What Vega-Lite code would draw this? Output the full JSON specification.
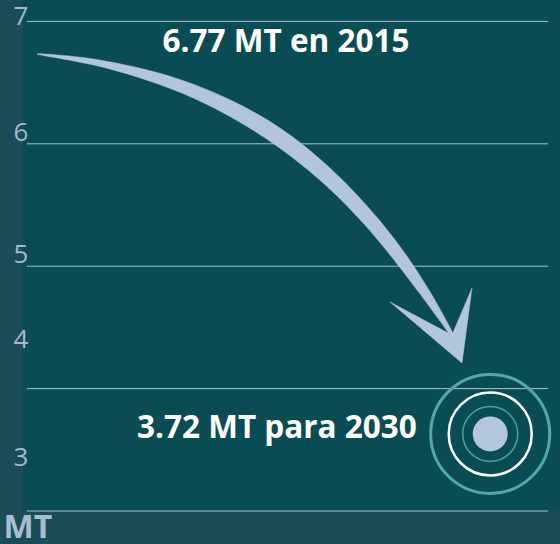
{
  "$schema": "https://vega.github.io/schema/vega-lite/v6.json",
  "width": 537,
  "height": 511,
  "autosize": "none",
  "padding": {"left": 23, "top": 0, "right": 0, "bottom": 33},
  "background": "#1c4d56",
  "view": {"fill": "#0a4c54", "stroke": null},
  "config": {"font": "Open Sans"},
  "datasets": {
    "grid": [{"mt": 3}, {"mt": 4}, {"mt": 5}, {"mt": 6}, {"mt": 7}],
    "shaft": [
      {"i": 1, "year": 2015.061, "mt": 6.734},
      {"i": 2, "year": 2016.339, "mt": 6.712},
      {"i": 3, "year": 2017.541, "mt": 6.666},
      {"i": 4, "year": 2019.041, "mt": 6.581},
      {"i": 5, "year": 2020.425, "mt": 6.467},
      {"i": 6, "year": 2021.857, "mt": 6.307},
      {"i": 7, "year": 2023.155, "mt": 6.114},
      {"i": 8, "year": 2024.326, "mt": 5.889},
      {"i": 9, "year": 2025.389, "mt": 5.640},
      {"i": 10, "year": 2026.363, "mt": 5.371},
      {"i": 11, "year": 2027.256, "mt": 5.082},
      {"i": 12, "year": 2027.975, "mt": 4.808},
      {"i": 13, "year": 2028.471, "mt": 4.592},
      {"i": 14, "year": 2028.782, "mt": 4.444},
      {"i": 15, "year": 2028.698, "mt": 4.432},
      {"i": 16, "year": 2028.304, "mt": 4.566},
      {"i": 17, "year": 2027.715, "mt": 4.764},
      {"i": 18, "year": 2026.925, "mt": 5.021},
      {"i": 19, "year": 2026.011, "mt": 5.297},
      {"i": 20, "year": 2025.038, "mt": 5.554},
      {"i": 21, "year": 2023.986, "mt": 5.789},
      {"i": 22, "year": 2022.847, "mt": 6.003},
      {"i": 23, "year": 2021.612, "mt": 6.196},
      {"i": 24, "year": 2020.260, "mt": 6.369},
      {"i": 25, "year": 2018.937, "mt": 6.499},
      {"i": 26, "year": 2017.491, "mt": 6.610},
      {"i": 27, "year": 2016.315, "mt": 6.675}
    ],
    "head": [
      {"i": 1, "year": 2028.740, "mt": 4.438},
      {"i": 2, "year": 2029.399, "mt": 4.822},
      {"i": 3, "year": 2029.070, "mt": 4.209},
      {"i": 4, "year": 2026.697, "mt": 4.708}
    ],
    "target": [{"year": 2030.0, "mt": 3.63}],
    "notes": [
      {"year": 2023.27, "mt": 6.753, "text": "6.77 MT en 2015"},
      {"year": 2022.97, "mt": 3.594, "text": "3.72 MT para 2030"}
    ]
  },
  "layer": [
    {
      "data": {"name": "grid"},
      "mark": {"type": "rule", "color": "#a6c3cf", "strokeWidth": 1},
      "encoding": {
        "x": {"datum": 2014.73, "type": "quantitative", "scale": {"domain": [2014.6, 2032.3], "nice": false, "zero": false}, "axis": null},
        "x2": {"datum": 2031.9},
        "y": {
          "field": "mt",
          "type": "quantitative",
          "scale": {"domain": [3, 7.175], "nice": false, "zero": false},
          "axis": {
            "values": [3, 4, 5, 6, 7],
            "format": "d",
            "grid": false,
            "domain": false,
            "ticks": false,
            "tickSize": 0,
            "labelFont": "Open Sans",
            "labelFontSize": 26,
            "labelColor": "#a1b9cb",
            "labelAlign": "center",
            "labelBaseline": "middle",
            "labelPadding": 2.5,
            "labelOffset": {
              "condition": [
                {"test": "datum.value == 7", "value": -5},
                {"test": "datum.value == 6", "value": -11},
                {"test": "datum.value == 5", "value": -12},
                {"test": "datum.value == 4", "value": -49}
              ],
              "value": -54
            },
            "title": "MT",
            "titleAngle": 0,
            "titleFont": "Open Sans",
            "titleFontWeight": "bold",
            "titleFontSize": 32,
            "titleColor": "#a7bdd0",
            "titleAlign": "left",
            "titleBaseline": "alphabetic",
            "titleX": -20,
            "titleY": 537
          }
        }
      }
    },
    {
      "data": {"name": "shaft"},
      "mark": {"type": "line", "fill": "#b2c5d9", "stroke": "#b2c5d9", "strokeWidth": 0.5, "interpolate": "cardinal-closed"},
      "encoding": {
        "x": {"field": "year", "type": "quantitative"},
        "y": {"field": "mt", "type": "quantitative"},
        "order": {"field": "i", "type": "quantitative"}
      }
    },
    {
      "data": {"name": "head"},
      "mark": {"type": "line", "fill": "#b2c5d9", "stroke": "#b2c5d9", "strokeWidth": 0.5, "interpolate": "linear-closed"},
      "encoding": {
        "x": {"field": "year", "type": "quantitative"},
        "y": {"field": "mt", "type": "quantitative"},
        "order": {"field": "i", "type": "quantitative"}
      }
    },
    {
      "data": {"name": "target"},
      "mark": {"type": "point", "shape": "circle", "filled": false, "size": 14161, "stroke": "#55a9a2", "strokeWidth": 3, "opacity": 1},
      "encoding": {
        "x": {"field": "year", "type": "quantitative"},
        "y": {"field": "mt", "type": "quantitative"}
      }
    },
    {
      "data": {"name": "target"},
      "mark": {"type": "point", "shape": "circle", "filled": false, "size": 6889, "stroke": "#ffffff", "strokeWidth": 2.5, "opacity": 1},
      "encoding": {
        "x": {"field": "year", "type": "quantitative"},
        "y": {"field": "mt", "type": "quantitative"}
      }
    },
    {
      "data": {"name": "target"},
      "mark": {"type": "point", "shape": "circle", "filled": false, "size": 3025, "stroke": "#4aa39c", "strokeWidth": 1.5, "opacity": 1},
      "encoding": {
        "x": {"field": "year", "type": "quantitative"},
        "y": {"field": "mt", "type": "quantitative"}
      }
    },
    {
      "data": {"name": "target"},
      "mark": {"type": "point", "shape": "circle", "filled": true, "size": 1225, "color": "#b4c6da", "opacity": 1, "strokeWidth": 0},
      "encoding": {
        "x": {"field": "year", "type": "quantitative"},
        "y": {"field": "mt", "type": "quantitative"}
      }
    },
    {
      "data": {"name": "notes"},
      "mark": {"type": "text", "font": "Open Sans", "fontWeight": "bold", "fontSize": 31.5, "color": "#ffffff", "align": "center", "baseline": "alphabetic"},
      "encoding": {
        "x": {"field": "year", "type": "quantitative"},
        "y": {"field": "mt", "type": "quantitative"},
        "text": {"field": "text"}
      }
    }
  ]
}
